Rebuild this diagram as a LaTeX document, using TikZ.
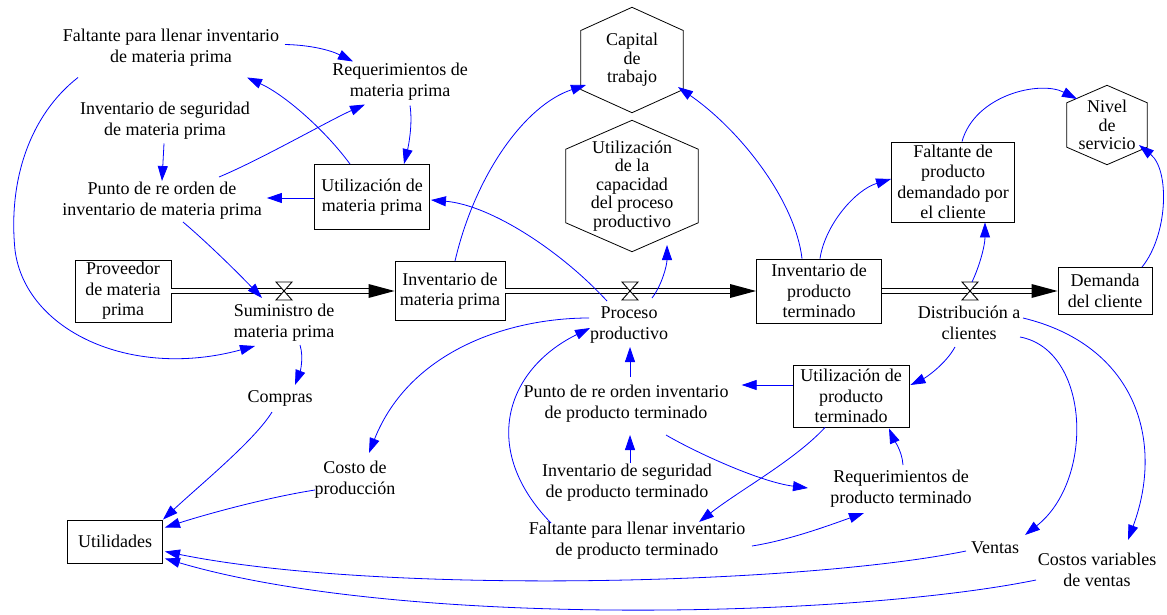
\documentclass[tikz,border=0pt]{standalone}
\usepackage{fontspec}
\setmainfont{Liberation Serif}
\usetikzlibrary{arrows.meta,calc}
\definecolor{lk}{RGB}{0,0,255}
\newcommand\hexdraw[1]{\draw[hexline] (#1.north) -- ($(#1.north east)!0.22!(#1.south east)$) -- ($(#1.north east)!0.78!(#1.south east)$) -- (#1.south) -- ($(#1.north west)!0.78!(#1.south west)$) -- ($(#1.north west)!0.22!(#1.south west)$) -- cycle;}
\newcommand\valvedraw[1]{\draw[valve] ($(#1)+(-8,-9)$) -- ($(#1)+(8,-9)$) -- ($(#1)+(-8,9)$) -- ($(#1)+(8,9)$) -- cycle;}
\tikzset{
  lbl/.style={align=center, inner sep=0pt, font=\fontsize{18}{21}\selectfont},
  box/.style={lbl, draw=black, line width=0.9pt, font=\fontsize{18}{20.5}\selectfont},
  hexnode/.style={lbl, font=\fontsize{18}{18.5}\selectfont},
  hexline/.style={draw=black, line width=0.8pt},
  link/.style={draw=lk, line width=0.8pt, -{Triangle[length=15pt,width=10pt]}},
  pipe/.style={draw=black, line width=0.9pt, double=white, double distance=4.5pt},
  valve/.style={draw=black, fill=white, line width=0.9pt},
}
\begin{document}
\begin{tikzpicture}[x=1pt,y=-1pt]
\useasboundingbox[fill=white] (0,0) rectangle (1167,615);

% stocks and boxes
\node[box, minimum width=96, minimum height=62] (prov) at (123,291) {Proveedor\\de materia\\prima};
\node[box, minimum width=110, minimum height=59] (imp) at (450,291) {Inventario de\\materia prima};
\node[box, minimum width=125, minimum height=64] (ipt) at (819,291) {Inventario de\\producto\\terminado};
\node[box, minimum width=94, minimum height=47] (dem) at (1105,291) {Demanda\\del cliente};
\node[box, minimum width=115, minimum height=65] (ump) at (372,197) {Utilización de\\materia prima};
\node[box, minimum width=116, minimum height=62] (upt) at (851,396) {Utilización de\\producto\\terminado};
\node[box, minimum width=123, minimum height=80] (fdem) at (953,182) {Faltante de\\producto\\demandado por\\el cliente};
\node[box, minimum width=95, minimum height=43] (util) at (115,541.5) {Utilidades};

% hexagons
\node[hexnode, minimum width=102, minimum height=105] (cap) at (632,60) {Capital\\de\\trabajo};
\node[hexnode, minimum width=132, minimum height=131] (ucap) at (632,186) {Utilización\\de la\\capacidad\\del proceso\\productivo};
\node[hexnode, minimum width=80, minimum height=79] (niv) at (1107,125) {Nivel\\de\\servicio};
\hexdraw{cap}
\hexdraw{ucap}
\hexdraw{niv}

% auxiliary variables
\node[lbl] (fmp) at (171,47.5) {Faltante para llenar inventario\\de materia prima};
\node[lbl] (rmp) at (400,81.5) {Requerimientos de\\materia prima};
\node[lbl] (ismp) at (165,120.5) {Inventario de seguridad\\de materia prima};
\node[lbl] (pmp) at (162,201) {Punto de re orden de\\inventario de materia prima};
\node[lbl] (sum) at (284,323) {Suministro de\\materia prima};
\node[lbl] (comp) at (280,398) {Compras};
\node[lbl] (proc) at (629,325) {Proceso\\productivo};
\node[lbl] (dist) at (969,323) {Distribución a\\clientes};
\node[lbl] (ppt) at (626,404) {Punto de re orden inventario\\de producto terminado};
\node[lbl] (ispt) at (627,483) {Inventario de seguridad\\de producto terminado};
\node[lbl] (rpt) at (901,489) {Requerimientos de\\producto terminado};
\node[lbl] (fpt) at (637,541) {Faltante para llenar inventario\\de producto terminado};
\node[lbl] (cprod) at (355,480) {Costo de\\producción};
\node[lbl] (vent) at (995,548) {Ventas};
\node[lbl] (cvv) at (1097,570) {Costos variables\\de ventas};

% flows
\coordinate (v1) at (284,291);
\coordinate (v2) at (630,291);
\coordinate (v3) at (970,291);
\draw[pipe] (prov.east) -- ($(imp.west)+(-24,0)$);
\fill[black] (imp.west) -- ++(-26,-7) -- ++(0,14) -- cycle;
\draw[pipe] (imp.east) -- ($(ipt.west)+(-24,0)$);
\fill[black] (ipt.west) -- ++(-26,-7) -- ++(0,14) -- cycle;
\draw[pipe] (ipt.east) -- ($(dem.west)+(-24,0)$);
\fill[black] (dem.west) -- ++(-26,-7) -- ++(0,14) -- cycle;
\valvedraw{v1}
\valvedraw{v2}
\valvedraw{v3}

% links
\draw[link] ($(fmp)+(114,-3)$) .. controls (310,45) and (330,50) .. ($(rmp)+(-47,-20)$);
\draw[link] ($(ump.north)+(-22,0)$) .. controls (325,130) and (285,95) .. ($(fmp)+(76,30)$);
\draw[link] ($(pmp)+(57,-24)$) .. controls (260,160) and (330,120) .. ($(rmp)+(-35,23)$);
\draw[link] ($(rmp)+(10,24)$) .. controls (413,125) and (408,148) .. ($(ump.north)+(32,0)$);
\draw[link] ($(ismp)+(-1,23)$) -- ($(pmp)+(0,-20)$);
\draw[link] ($(ump.west)+(0,1)$) -- ($(pmp.east)+(5,-3)$);
\draw[link] ($(proc)+(-22,-24)$) .. controls (560,250) and (490,205) .. ($(ump.east)+(1,3)$);
\draw[link] ($(pmp)+(21,21)$) .. controls (210,245) and (240,275) .. ($(sum)+(-22,-25)$);
\draw[link] ($(fmp)+(-93,30)$) .. controls (30,115) and (8,180) .. (15,250) .. controls (25,330) and (130,380) .. ($(sum)+(-29,23)$);
\draw[link] ($(sum)+(16,22)$) .. controls (304,358) and (300,372) .. ($(comp)+(15,-13)$);
\draw[link] ($(comp)+(-8,14)$) .. controls (255,440) and (200,485) .. (util.north east);
\draw[link] ($(imp.north)+(5,0)$) .. controls (475,175) and (525,105) .. ($(cap)+(-46,25)$);
\draw[link] ($(ipt.north)+(-17,0)$) .. controls (795,200) and (740,130) .. ($(cap)+(46,27)$);
\draw[link] ($(proc)+(23,-27)$) .. controls (662,285) and (667,265) .. ($(ucap)+(35,59)$);
\draw[link] ($(ipt.north)+(1,0)$) .. controls (825,225) and (855,190) .. ($(fdem.west)+(0,-3)$);
\draw[link] ($(v3)+(2,-9)$) .. controls (980,265) and (985,245) .. ($(fdem.south)+(32,0)$);
\draw[link] ($(fdem.north)+(9,0)$) .. controls (975,95) and (1040,80) .. ($(niv)+(-30,-26)$);
\draw[link] ($(dem.north)+(37,0)$) .. controls (1168,235) and (1170,170) .. ($(niv)+(32,20)$);
\draw[link] ($(dist)+(54,-5)$) .. controls (1135,345) and (1165,440) .. ($(cvv)+(31,-30)$);
\draw[link] ($(dist)+(51,14)$) .. controls (1090,350) and (1095,480) .. ($(vent)+(30,-13)$);
\draw[link] ($(dist)+(-14,24)$) .. controls (945,365) and (925,378) .. ($(upt.east)+(1,-11)$);
\draw[link] ($(upt.west)+(0,-11)$) -- ($(ppt.east)+(13,-19)$);
\draw[link] ($(ppt)+(4,-27)$) -- ($(proc)+(1,22)$);
\draw[link] ($(ispt)+(3,-20)$) -- ($(ppt)+(4,31)$);
\draw[link] ($(ppt)+(40,31)$) .. controls (695,452) and (760,482) .. ($(rpt)+(-93,-1)$);
\draw[link] ($(upt.south)+(-26,0)$) .. controls (795,460) and (740,490) .. ($(fpt)+(62,-19)$);
\draw[link] ($(rpt)+(2,-24)$) .. controls (902,450) and (893,438) .. ($(upt.south)+(38,1)$);
\draw[link] ($(fpt)+(115,5)$) .. controls (790,540) and (830,525) .. ($(rpt)+(-37,24)$);
\draw[link] ($(fpt)+(-86,-18)$) .. controls (480,450) and (505,370) .. ($(proc)+(-39,3)$);
\draw[link] ($(proc)+(-40,-7)$) .. controls (510,318) and (410,350) .. ($(cprod)+(14,-27)$);
\draw[link] ($(cprod)+(-40,10)$) .. controls (270,497) and (210,513) .. ($(util.east)+(2,-14)$);
\draw[link] ($(vent)+(-29,3)$) .. controls (800,585) and (380,595) .. ($(util.east)+(2,10)$);
\draw[link] ($(cvv)+(-61,10)$) .. controls (850,618) and (400,628) .. ($(util.east)+(2,17)$);
\end{tikzpicture}
\end{document}
